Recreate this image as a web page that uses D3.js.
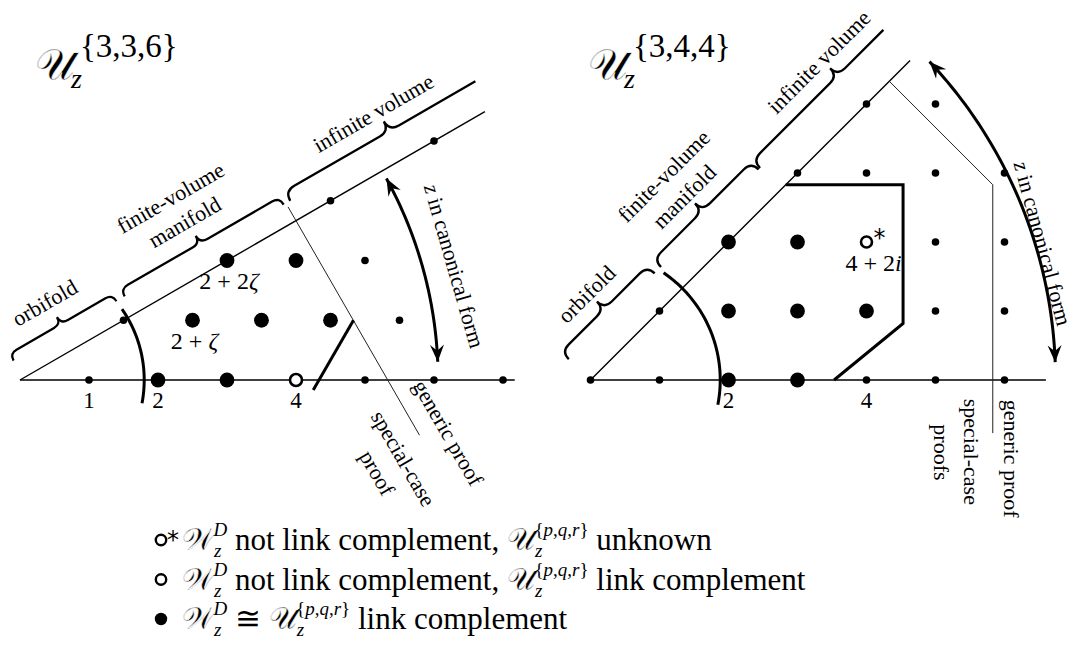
<!DOCTYPE html>
<html lang="en">
<head>
<meta charset="UTF-8">
<title>canonical form lattices</title>
<script src="https://d3js.org/d3.v7.min.js"></script>
<style>
  html,body{margin:0;padding:0;background:#fff;}
  svg text{font-family:"Liberation Serif","DejaVu Serif",serif;fill:#000;white-space:pre;}
  .thin{fill:none;stroke:#000;stroke-width:1.4;}
  .hair{fill:none;stroke:#222;stroke-width:1;}
  .thick{fill:none;stroke:#000;stroke-width:3;stroke-linecap:butt;}
  .brace{fill:none;stroke:#000;stroke-width:2.3;}
  .cal{font-family:"DejaVu Serif";stroke:#fff;stroke-width:0.45px;}
</style>
</head>
<body>
<div id="chart"></div>
<script>
// ---------- data ----------
// left panel: points a + b*zeta (zeta = e^{i pi/3})
var leftSmall = [[1,0],[5,0],[6,0],[7,0],[1,1],[5,1],[4,2],[3,3],[4,4]];
var leftBig   = [[2,0],[3,0],[2,1],[3,1],[4,1],[2,2],[3,2]];
var leftOpen  = [[4,0]];
var leftTicks = [1,2,4];
var leftNamed = [{p:[2,2], dx:2, text:"2 + 2<tspan font-style='italic'>ζ</tspan>"},
                 {p:[2,1], dx:2, text:"2 + <tspan font-style='italic'>ζ</tspan>"}];
// right panel: gaussian integers a + b*i
var rightSmall = [[0,0],[1,0],[4,0],[5,0],[6,0],[1,1],[5,1],[6,1],[5,2],[6,2],
                  [3,3],[4,3],[5,3],[6,3],[4,4],[5,4]];
var rightBig   = [[2,0],[3,0],[2,1],[3,1],[4,1],[2,2],[3,2]];
var rightStar  = [[4,2]];
var rightTicks = [2,4];
var rightNamed = [{p:[4,2], dx:7, text:"4 + 2<tspan font-style='italic'>i</tspan>"}];

// braces along the slanted line (distance along line, in lattice units)
var leftBraces  = [{t0:0.06,t1:1.78,amp:16,label:["orbifold"],lt:0.87},
                   {t0:1.92,t1:4.58,amp:17,label:["finite-volume","manifold"],lt:3.21},
                   {t0:4.69,t1:8.19,tEnd:7.88,amp:22,label:["infinite volume"],lt:6.37}];
var rightBraces = [{t0:-0.01,t1:1.75,amp:21,label:["orbifold"],lt:0.84},
                   {t0:1.88,t1:3.88,amp:21,label:["finite-volume","manifold"],lt:2.84},
                   {t0:3.91,t1:7.39,tEnd:6.59,amp:21,label:["infinite volume"],lt:5.6}];

// proof boundaries (lattice coordinates)
var leftGeneric  = [[3.885,2.508],[5.79,-0.8]];
var leftSpecial  = [[4.833,0.866],[4.25,-0.144]];
var rightGeneric = [[4.33,4.33],[5.83,2.83],[5.83,-0.77]];
var rightSpecial = [[2.83,2.83],[4.53,2.83],[4.53,0.82],[3.53,0]];

// arcs: radius (units), start/end angle (deg)
var leftArc   = {r:1.8, a0:-10.8, a1:34.8};
var rightArc  = {r:1.88, a0:-11, a1:55.7};
var leftZArc  = {r:6.06, a0:2.5, a1:28.8};
var rightZArc = {r:6.74, a0:2.2, a1:43.2};

var leftProofLabels  = [{p:[6.2,-0.77],t:"generic proof"},{p:[5.55,-1.14],t:"special-case"},{p:[5.17,-1.35],t:"proof"}];
var rightProofLabels = [{p:[6.09,-1.14],t:"generic proof"},{p:[5.51,-1.04],t:"special-case"},{p:[5.08,-1.05],t:"proofs"}];

// ---------- drawing ----------
var width = 1067, height = 646, unit = 69;
var svg = d3.select("#chart").append("svg").attr("width", width).attr("height", height);
var s3 = Math.sqrt(3);
function eis(p){ return [p[0] + p[1]/2, p[1]*s3/2]; }
function gau(p){ return p; }

function drawPanel(cfg){
  var x = d3.scaleLinear().domain([0,1]).range([cfg.ox, cfg.ox + unit]);
  var y = d3.scaleLinear().domain([0,1]).range([cfg.oy, cfg.oy - unit]);
  var g = svg.append("g");
  var line = d3.line().x(function(d){return x(d[0]);}).y(function(d){return y(d[1]);});
  var th = cfg.ang*Math.PI/180;
  var dir = [Math.cos(th), Math.sin(th)];
  var nrm = [-Math.sin(th), -Math.cos(th)]; // screen normal, up-left
  function onLine(t, off){
    return [x(t*dir[0]) + off*nrm[0], y(t*dir[1]) + off*nrm[1]];
  }

  // axis and slanted line
  g.append("path").attr("class","thin").attr("d", line([[0,0],[cfg.axisEnd,0]]));
  g.append("path").attr("class","thin").attr("d", line([[0,0],[cfg.lineEnd*dir[0], cfg.lineEnd*dir[1]]]));

  // proof boundaries
  g.append("path").attr("class","hair").attr("d", line(cfg.generic));
  g.append("path").attr("class","thick").attr("d", line(cfg.special));

  // arcs
  function arcPts(a){
    return d3.range(0, 61).map(function(i){
      var ang = (a.a0 + (a.a1-a.a0)*i/60)*Math.PI/180;
      return [a.r*Math.cos(ang), a.r*Math.sin(ang)];
    });
  }
  g.append("path").attr("class","thick").attr("d", line(arcPts(cfg.arc)));
  g.append("path").attr("class","thick").attr("d", line(arcPts(cfg.zarc)));
  // stealth arrow heads on the z arc
  [[cfg.zarc.a1, 1],[cfg.zarc.a0, -1]].forEach(function(e){
    var ang = e[0]*Math.PI/180;
    var tip = [x(cfg.zarc.r*Math.cos(ang)), y(cfg.zarc.r*Math.sin(ang))];
    var tx = -Math.sin(ang)*e[1], ty = -Math.cos(ang)*e[1];
    var px = -ty, py = tx, L = 17, w = 7, nb = 11;
    var p = d3.path();
    p.moveTo(tip[0], tip[1]);
    p.lineTo(tip[0]-L*tx+w*px, tip[1]-L*ty+w*py);
    p.lineTo(tip[0]-nb*tx, tip[1]-nb*ty);
    p.lineTo(tip[0]-L*tx-w*px, tip[1]-L*ty-w*py);
    p.closePath();
    g.append("path").attr("d", p.toString()).attr("fill","#000");
  });
  var za = cfg.ztext.ang*Math.PI/180;
  g.append("text")
    .attr("transform","translate(" + x(cfg.ztext.r*Math.cos(za)) + "," + y(cfg.ztext.r*Math.sin(za)) + ") rotate(" + cfg.ztext.rot + ")")
    .attr("text-anchor","middle").attr("dy","0.32em").attr("font-size",22)
    .html("<tspan font-style='italic'>z</tspan> in canonical form");

  // braces
  cfg.braces.forEach(function(b){
    var p1 = onLine(b.t0, cfg.base), p2 = onLine(b.t1, cfg.base);
    var ux = p2[0]-p1[0], uy = p2[1]-p1[1], L = Math.hypot(ux,uy);
    ux /= L; uy /= L;
    var q = b.amp/2, m = [(p1[0]+p2[0])/2, (p1[1]+p2[1])/2];
    function P(b0, s, k){ return [b0[0]+s*ux+k*nrm[0], b0[1]+s*uy+k*nrm[1]]; }
    var p = d3.path(), c, e;
    p.moveTo(p1[0], p1[1]);
    c = P(p1,0,q); e = P(p1,q,q); p.quadraticCurveTo(c[0],c[1],e[0],e[1]);
    e = P(m,-q,q); p.lineTo(e[0],e[1]);
    c = P(m,0,q); e = P(m,0,2*q); p.quadraticCurveTo(c[0],c[1],e[0],e[1]);
    e = P(m,q,q); p.quadraticCurveTo(c[0],c[1],e[0],e[1]);
    if (b.tEnd !== undefined){
      e = onLine(b.tEnd, cfg.base + q); p.lineTo(e[0],e[1]);
    } else {
      e = P(p2,-q,q); p.lineTo(e[0],e[1]);
      c = P(p2,0,q); p.quadraticCurveTo(c[0],c[1],p2[0],p2[1]);
    }
    g.append("path").attr("class","brace").attr("d", p.toString());
    b.label.forEach(function(txt, i){
      var off = cfg.labelOff + (b.label.length-1-i)*cfg.labelGap;
      var c0 = onLine(b.lt, off);
      g.append("text")
        .attr("transform","translate(" + c0[0] + "," + c0[1] + ") rotate(" + (-cfg.ang) + ")")
        .attr("text-anchor","middle").attr("dy","0.32em").attr("font-size",22)
        .text(txt);
    });
  });

  // tick labels
  g.selectAll(".tick").data(cfg.ticks).enter().append("text")
    .attr("x", function(d){return x(d);}).attr("y", cfg.oy + 28)
    .attr("text-anchor","middle").attr("font-size",23)
    .text(function(d){return d;});

  // proof labels
  g.selectAll(".plab").data(cfg.proofLabels).enter().append("text")
    .attr("transform", function(d){ return "translate(" + x(d.p[0]) + "," + y(d.p[1]) + ") rotate(" + cfg.proofRot + ")"; })
    .attr("text-anchor","middle").attr("dy","0.32em").attr("font-size",22)
    .text(function(d){return d.t;});

  // named points
  g.selectAll(".named").data(cfg.named).enter().append("text")
    .attr("x", function(d){ return x(cfg.conv(d.p)[0]) + d.dx; })
    .attr("y", function(d){ return y(cfg.conv(d.p)[1]) + 29; })
    .attr("text-anchor","middle").attr("font-size",24)
    .html(function(d){return d.text;});

  // lattice points
  g.selectAll(".sm").data(cfg.small).enter().append("circle")
    .attr("cx", function(d){return x(cfg.conv(d)[0]);})
    .attr("cy", function(d){return y(cfg.conv(d)[1]);})
    .attr("r", 3.8).attr("fill","#000");
  g.selectAll(".bg").data(cfg.big).enter().append("circle")
    .attr("cx", function(d){return x(cfg.conv(d)[0]);})
    .attr("cy", function(d){return y(cfg.conv(d)[1]);})
    .attr("r", 7.4).attr("fill","#000");
  g.selectAll(".op").data(cfg.open).enter().append("circle")
    .attr("cx", function(d){return x(cfg.conv(d)[0]);})
    .attr("cy", function(d){return y(cfg.conv(d)[1]);})
    .attr("r", cfg.openR).attr("fill","#fff").attr("stroke","#000").attr("stroke-width",2.6);
  if (cfg.star){
    g.selectAll(".st").data(cfg.open).enter().append("text")
      .attr("x", function(d){return x(cfg.conv(d)[0]) + 13;})
      .attr("y", function(d){return y(cfg.conv(d)[1]) + 4;})
      .attr("text-anchor","middle").attr("font-size",24)
      .style("font-family","DejaVu Sans")
      .text("*");
  }
  // title
  g.append("text").attr("class","cal").attr("x", cfg.tx).attr("y", 80).attr("font-size",44).text("𝒰");
  g.append("text").attr("x", cfg.tx + 36).attr("y", 88).attr("font-size",28)
    .attr("font-style","italic").text("z");
  g.append("text").attr("x", cfg.tx + 45).attr("y", 57).attr("font-size",33)
    .text(cfg.title);
}

drawPanel({ox:20, oy:380, ang:30, conv:eis, axisEnd:7.17, lineEnd:7.78,
  small:leftSmall, big:leftBig, open:leftOpen, openR:6, star:false, ticks:leftTicks,
  named:leftNamed, braces:leftBraces, base:20, labelOff:54, labelGap:28,
  generic:leftGeneric, special:leftSpecial, arc:leftArc, zarc:leftZArc,
  ztext:{r:6.5, ang:14.7, rot:74}, proofLabels:leftProofLabels, proofRot:60,
  tx:35, title:"{3,3,6}"});

drawPanel({ox:590.5, oy:380, ang:45, conv:gau, axisEnd:6.6, lineEnd:6.55,
  small:rightSmall, big:rightBig, open:rightStar, openR:5.5, star:true, ticks:rightTicks,
  named:rightNamed, braces:rightBraces, base:30, labelOff:63, labelGap:29,
  generic:rightGeneric, special:rightSpecial, arc:rightArc, zarc:rightZArc,
  ztext:{r:6.84, ang:16.8, rot:75}, proofLabels:rightProofLabels, proofRot:90,
  tx:588, title:"{3,4,4}"});

// ---------- legend ----------
var legendSyms = ["star","open","full"];
var legendMid  = [" not link complement, ", " not link complement, ", " ≅ "];
var legendEnd  = [" unknown", " link complement", " link complement"];
function legendHtml(i){
  var W = "<tspan class='cal'>𝒲</tspan><tspan font-size='19' font-style='italic' dy='7'>z</tspan><tspan font-size='19' font-style='italic' dx='-8' dy='-21'>D</tspan>";
  var Uc = "<tspan class='cal'>𝒰</tspan><tspan font-size='19' font-style='italic' dy='7'>z</tspan><tspan font-size='19' dx='-8' dy='-21'>{<tspan font-style='italic'>p</tspan>,<tspan font-style='italic'>q</tspan>,<tspan font-style='italic'>r</tspan>}</tspan>";
  return W + "<tspan dy='14'>" + legendMid[i] + "</tspan>" + Uc + "<tspan dy='14'>" + legendEnd[i] + "</tspan>";
}
var ly = d3.scaleLinear().domain([0,2]).range([550, 629]);
var leg = svg.append("g");
legendSyms.forEach(function(s, i){
  var yy = ly(i);
  if (s === "full"){
    leg.append("circle").attr("cx",161).attr("cy",yy-10).attr("r",6.2).attr("fill","#000");
  } else {
    leg.append("circle").attr("cx",161).attr("cy",yy-10).attr("r",5.2).attr("fill","#fff")
      .attr("stroke","#000").attr("stroke-width",2.4);
  }
  if (s === "star"){
    leg.append("text").attr("x",173).attr("y",yy-2).attr("text-anchor","middle")
      .attr("font-size",24).style("font-family","DejaVu Sans").text("*");
  }
  leg.append("text").attr("x",182).attr("y",yy).attr("font-size",31).html(legendHtml(i));
});
</script>
</body>
</html>
